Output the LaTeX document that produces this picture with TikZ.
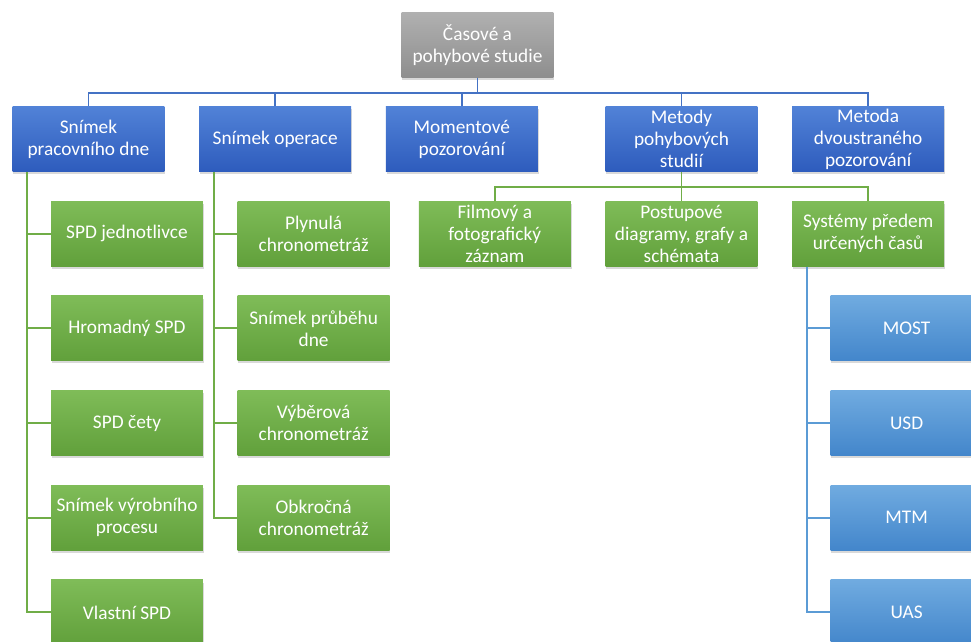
\documentclass[tikz,border=0pt]{standalone}
\usepackage{fontspec}
\setmainfont{Carlito}
\usetikzlibrary{positioning,shadows}

\definecolor{graytop}{HTML}{B0B0B0}
\definecolor{graybot}{HTML}{8E8E8E}
\definecolor{bluetop}{HTML}{5182D7}
\definecolor{bluebot}{HTML}{2E5CBD}
\definecolor{greentop}{HTML}{7FBC58}
\definecolor{greenbot}{HTML}{61A03B}
\definecolor{skytop}{HTML}{70ABE0}
\definecolor{skybot}{HTML}{4386CB}
\definecolor{lineblue}{HTML}{4472C4}
\definecolor{linegreen}{HTML}{70AD47}
\definecolor{linesky}{HTML}{5B9BD5}

\begin{document}
\begin{tikzpicture}[
    x=0.02cm, y=-0.02cm,
    node distance=0.58cm and 0.68cm,
    box/.style={rectangle, minimum width=3.04cm, minimum height=1.3cm, inner sep=1pt, align=center, text=white,
        font=\fontsize{11}{12.5}\selectfont,
        drop shadow={shadow xshift=0.4pt, shadow yshift=-1.5pt, opacity=0.3}},
    rootbox/.style={box, top color=graytop, bottom color=graybot},
    mainbox/.style={box, top color=bluetop, bottom color=bluebot},
    subbox/.style={box, top color=greentop, bottom color=greenbot},
    detailbox/.style={box, top color=skytop, bottom color=skybot},
    bluelink/.style={draw=lineblue, line width=1.1pt},
    greenlink/.style={draw=linegreen, line width=1.1pt},
    skylink/.style={draw=linesky, line width=1.1pt}
]
    \useasboundingbox (0,0) rectangle (971,642);
    \clip (0,0) rectangle (971,642);

    \node[rootbox] (root) at (477.5,45) {Časové a\\pohybové studie};

    % first level
    \node[mainbox] (pracdne) at (88.5,139) {Snímek\\pracovního dne};
    \node[mainbox, right=of pracdne] (operace) {Snímek operace};
    \node[mainbox, right=of operace] (moment) {Momentové\\pozorování};
    \node[mainbox, right=1.34cm of moment] (metody) {Metody\\pohybových\\studií};
    \node[mainbox, right=of metody] (dvoustr) {Metoda\\dvoustraného\\pozorování};

    % snimek pracovniho dne
    \node[subbox, below=of pracdne, xshift=0.77cm] (spdj) {SPD jednotlivce};
    \node[subbox, below=of spdj] (hromad) {Hromadný SPD};
    \node[subbox, below=of hromad] (cety) {SPD čety};
    \node[subbox, below=of cety] (vyrob) {Snímek výrobního\\procesu};
    \node[subbox, below=of vyrob] (vlastni) {Vlastní SPD};

    % snimek operace
    \node[subbox, below=of operace, xshift=0.77cm] (plynula) {Plynulá\\chronometráž};
    \node[subbox, below=of plynula] (prubeh) {Snímek průběhu\\dne};
    \node[subbox, below=of prubeh] (vyber) {Výběrová\\chronometráž};
    \node[subbox, below=of vyber] (obkrocna) {Obkročná\\chronometráž};

    % metody pohybovych studii
    \node[subbox, below=of metody] (postup) {Postupové\\diagramy, grafy a\\schémata};
    \node[subbox, left=of postup] (film) {Filmový a\\fotografický\\záznam};
    \node[subbox, below=of dvoustr] (systemy) {Systémy předem\\určených časů};

    \node[detailbox, below=of systemy, xshift=0.77cm] (most) {MOST};
    \node[detailbox, below=of most] (usd) {USD};
    \node[detailbox, below=of usd] (mtm) {MTM};
    \node[detailbox, below=of mtm] (uas) {UAS};

    % connectors
    \foreach \n in {pracdne,operace,moment,metody,dvoustr}
        \draw[bluelink] (root.south) -- ++(0,15) -| (\n.north);
    \foreach \n in {spdj,hromad,cety,vyrob,vlastni}
        \draw[greenlink] ([xshift=0.3cm]pracdne.south west) |- (\n.west);
    \foreach \n in {plynula,prubeh,vyber,obkrocna}
        \draw[greenlink] ([xshift=0.3cm]operace.south west) |- (\n.west);
    \foreach \n in {film,postup,systemy}
        \draw[greenlink] (metody.south) -- ++(0,15) -| (\n.north);
    \foreach \n in {most,usd,mtm,uas}
        \draw[skylink] ([xshift=0.3cm]systemy.south west) |- (\n.west);
\end{tikzpicture}
\end{document}
